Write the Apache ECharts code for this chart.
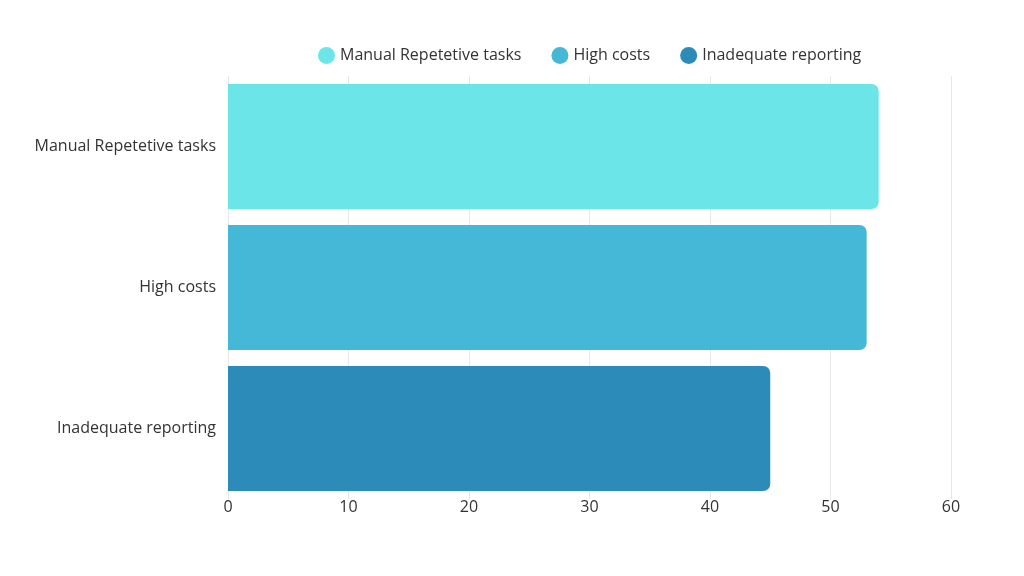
<!DOCTYPE html>
<html><head><meta charset="utf-8">
<script src="https://cdn.jsdelivr.net/npm/echarts@6/dist/echarts.min.js"></script>
<style>html,body{margin:0;padding:0;background:#fff}#c{width:1024px;height:576px}</style>
</head><body><div id="c"></div>
<script>
const categories = ["Manual Repetetive tasks", "High costs", "Inadequate reporting"];
const values = [54, 53, 45];
const colors = ["#6be5e8", "#45b8d8", "#2d8bb9"];
const xTicks = [0, 10, 20, 30, 40, 50, 60];

const chart = echarts.init(document.getElementById('c'));
const series = categories.map((name, i) => ({
  name: name,
  type: 'bar',
  stack: 'total',
  data: categories.map((c, j) => j === i ? values[i] : null),
  itemStyle: { color: colors[i], borderRadius: [0, 7, 7, 0] },
  barCategoryGap: '11.3%'
}));
chart.setOption({
  animation: false,
  textStyle: { fontFamily: 'Open Sans' },
  legend: {
    top: 42, left: 313,
    icon: 'circle', itemWidth: 17, itemHeight: 17, itemGap: 30,
    textStyle: { fontSize: 16, color: '#333', fontFamily: 'Open Sans' },
    data: categories
  },
  grid: { left: 228, right: 73, top: 76, bottom: 77, containLabel: false },
  xAxis: {
    type: 'value', min: xTicks[0], max: xTicks[xTicks.length - 1], interval: 10,
    axisLine: { show: false }, axisTick: { show: false },
    axisLabel: { fontSize: 16, color: '#333', margin: 0, fontFamily: 'Open Sans' },
    splitLine: { lineStyle: { color: '#e8e8e8' } }
  },
  yAxis: {
    type: 'category', data: categories, inverse: true,
    axisLine: { show: false }, axisTick: { show: false },
    axisLabel: { fontSize: 16, color: '#333', margin: 12, fontFamily: 'Open Sans' }
  },
  series: series
});
</script></body></html>
